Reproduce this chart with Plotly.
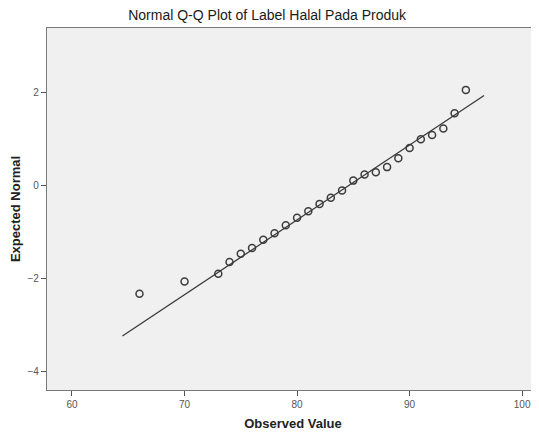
import plotly.graph_objects as go

observed = [66, 70, 73, 74, 75, 76, 77, 78, 79, 80, 81, 82, 83, 84, 85, 86, 87, 88,
            89, 90, 91, 92, 93, 94, 95]
expected = [-2.32, -2.06, -1.89, -1.64, -1.46, -1.34, -1.16, -1.02, -0.85, -0.69,
            -0.55, -0.39, -0.26, -0.10, 0.11, 0.24, 0.29, 0.40, 0.59, 0.81, 1.00,
            1.09, 1.23, 1.56, 2.06]

# Reference line parameters (normal fit)
line_mean = 84.56
line_sd = 6.216
line_x = [64.48, 96.62]
line_y = [(v - line_mean) / line_sd for v in line_x]

x_ticks = [60, 70, 80, 90, 100]
y_ticks = [-4, -2, 0, 2]

FONT = "Arial, Liberation Sans, sans-serif"

fig = go.Figure()
fig.add_trace(go.Scatter(x=line_x, y=line_y, mode="lines",
                         line=dict(color="#3a3a3a", width=1.3),
                         hoverinfo="skip", showlegend=False))
fig.add_trace(go.Scatter(x=observed, y=expected, mode="markers",
                         marker=dict(symbol="circle-open", size=7,
                                     color="#3c3c3c", line=dict(width=1.5)),
                         showlegend=False))

# page has an 8px body margin, so the figure is 531x427 placed at (8, 8)
fig.update_layout(
    width=531, height=427,
    margin=dict(l=39, r=0, t=20, b=45),
    paper_bgcolor="white",
    plot_bgcolor="#f0f0f0",
    font=dict(family=FONT, color="#444", size=10),
    title=dict(text="Normal Q-Q Plot of Label Halal Pada Produk",
               x=0.488, xanchor="center", y=0.984, yanchor="middle",
               font=dict(family=FONT, size=14, color="#1a1a1a")),
    xaxis=dict(range=[57.78, 101.5], tickvals=x_ticks,
               showgrid=False, zeroline=False,
               showline=True, linecolor="#7a7a7a", linewidth=1.2, mirror=True,
               ticks="outside", ticklen=5, tickcolor="#555",
               tickfont=dict(size=10, color="#555"),
               title=dict(text="<b>Observed Value</b>", standoff=9,
                          font=dict(size=13, color="#222"))),
    yaxis=dict(range=[-4.39, 3.39], tickvals=y_ticks,
               showgrid=False, zeroline=False,
               showline=True, linecolor="#7a7a7a", linewidth=1.2,
               ticks="outside", ticklen=5, tickcolor="#555",
               tickfont=dict(size=10, color="#555"),
               title=dict(text="<b>Expected Normal</b>", standoff=4,
                          font=dict(size=13, color="#222"))),
)

fig.write_html("out.html")
